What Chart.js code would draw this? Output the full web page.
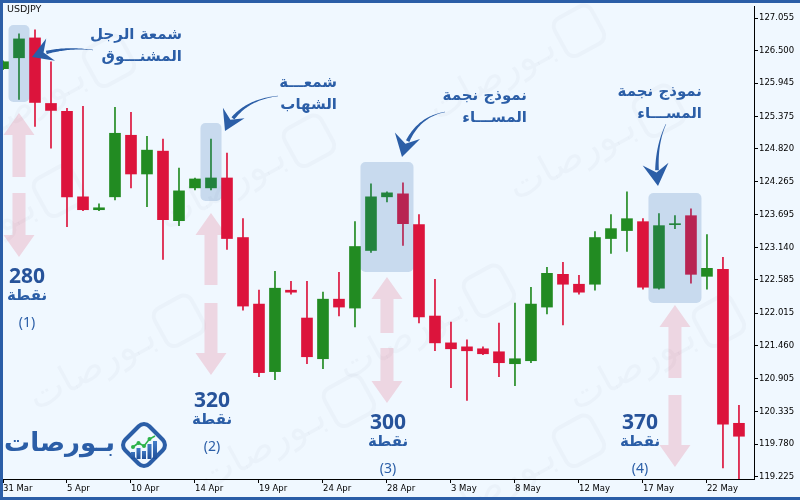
<!DOCTYPE html>
<html>
<head>
<meta charset="utf-8">
<script src="https://cdn.jsdelivr.net/npm/chart.js@4/dist/chart.umd.min.js"></script>
<style>
  html, body { margin: 0; padding: 0; background: #f0f8ff; }
</style>
</head>
<body>
<canvas id="chart" width="800" height="500"></canvas>
<script>
// USDJPY daily candles, 31 Mar .. 23 May (one label every 4 bars)
const dateLabels = ["31 Mar", "5 Apr", "10 Apr", "14 Apr", "19 Apr", "24 Apr", "28 Apr", "3 May", "8 May", "12 May", "17 May", "22 May"];
const opens  = [126.191, 126.377, 126.716, 125.597, 125.461, 124.003, 123.783, 124.003, 125.054, 124.393,
                124.783, 123.596, 124.156, 124.156, 124.325, 123.308, 122.172, 121.019, 122.409, 121.934,
                121.239, 122.256, 122.104, 123.087, 124.003, 124.054, 123.528, 121.968, 121.510, 121.442,
                121.409, 121.358, 121.154, 121.205, 122.121, 122.680, 122.511, 122.511, 123.291, 123.427,
                123.579, 122.443, 123.528, 123.681, 122.646, 122.765, 120.137];
const highs  = [126.326, 126.784, 126.852, 126.309, 125.512, 125.546, 123.884, 125.529, 125.444, 125.037,
                124.987, 124.495, 124.325, 124.987, 124.749, 123.630, 122.409, 122.731, 122.562, 122.562,
                122.375, 122.714, 123.579, 124.224, 124.088, 124.241, 123.698, 122.596, 121.866, 121.561,
                121.442, 121.849, 122.189, 122.460, 122.799, 122.884, 122.663, 123.410, 123.698, 124.088,
                123.630, 123.715, 123.681, 123.800, 123.359, 122.969, 120.442];
const lows   = [126.174, 125.665, 125.207, 124.834, 123.494, 123.766, 123.766, 123.952, 124.156, 123.833,
                122.935, 123.511, 124.122, 124.122, 123.104, 122.070, 120.934, 120.883, 122.341, 121.154,
                121.069, 121.968, 121.782, 123.053, 123.918, 123.172, 121.849, 121.375, 120.747, 120.527,
                121.307, 120.934, 120.781, 121.171, 122.002, 121.816, 122.341, 122.409, 123.037, 123.070,
                122.426, 122.426, 123.460, 122.528, 122.426, 119.374, 119.150];
const closes = [126.309, 126.699, 125.614, 125.478, 124.003, 123.783, 123.816, 125.088, 124.393, 124.800,
                123.613, 124.105, 124.308, 124.325, 123.291, 122.138, 121.002, 122.443, 122.375, 121.273,
                122.256, 122.121, 123.155, 124.003, 124.071, 123.545, 121.951, 121.510, 121.409, 121.375,
                121.324, 121.171, 121.239, 122.172, 122.697, 122.511, 122.375, 123.308, 123.460, 123.630,
                122.460, 123.511, 123.545, 122.680, 122.782, 120.120, 119.916];
const priceTicks = [119.225, 119.780, 120.335, 120.905, 121.460, 122.015, 122.585, 123.140,
                    123.695, 124.265, 124.820, 125.375, 125.945, 126.500, 127.055];

// the four marked moves
const moveCandles = [1, 13, 24, 42];
const movePoints = ["280", "320", "300", "370"];

const UP = "#228b22", DOWN = "#dc143c", BLUE = "#2b5ea7";
const colors = closes.map((c, i) => c >= opens[i] ? UP : DOWN);
const bodies = closes.map((c, i) => ({ x: i, y: [opens[i], c] }));
const wicks = highs.map((h, i) => ({ x: i, y: [lows[i], h] }));

function pinkArrow(ctx, cx, y0, y1, up) {
  const head = 22, hw = 15.5, sw = 6.5;
  ctx.beginPath();
  if (up) {
    ctx.moveTo(cx, y0);
    ctx.lineTo(cx + hw, y0 + head);
    ctx.lineTo(cx + sw, y0 + head);
    ctx.lineTo(cx + sw, y1);
    ctx.lineTo(cx - sw, y1);
    ctx.lineTo(cx - sw, y0 + head);
    ctx.lineTo(cx - hw, y0 + head);
  } else {
    ctx.moveTo(cx, y1);
    ctx.lineTo(cx + hw, y1 - head);
    ctx.lineTo(cx + sw, y1 - head);
    ctx.lineTo(cx + sw, y0);
    ctx.lineTo(cx - sw, y0);
    ctx.lineTo(cx - sw, y1 - head);
    ctx.lineTo(cx - hw, y1 - head);
  }
  ctx.closePath();
  ctx.fill();
}

function swoosh(ctx, p0, c, p2, headLen, headW, maxW) {
  const q = t => ({
    x: (1 - t) * (1 - t) * p0.x + 2 * (1 - t) * t * c.x + t * t * p2.x,
    y: (1 - t) * (1 - t) * p0.y + 2 * (1 - t) * t * c.y + t * t * p2.y
  });
  let dx = p2.x - c.x, dy = p2.y - c.y;
  const dl = Math.hypot(dx, dy); dx /= dl; dy /= dl;
  const left = [], right = [];
  const N = 40;
  for (let i = 0; i <= N; i++) {
    const t = i / N;
    const p = q(t);
    if (Math.hypot(p2.x - p.x, p2.y - p.y) < headLen * 0.7) break;
    const a = q(Math.max(0, t - 0.01)), b = q(Math.min(1, t + 0.01));
    let tx = b.x - a.x, ty = b.y - a.y;
    const tl = Math.hypot(tx, ty); tx /= tl; ty /= tl;
    const w = 0.4 + (maxW - 0.4) * Math.pow(t, 1.3);
    left.push({ x: p.x - ty * w / 2, y: p.y + tx * w / 2 });
    right.push({ x: p.x + ty * w / 2, y: p.y - tx * w / 2 });
  }
  ctx.beginPath();
  left.forEach((p, i) => i ? ctx.lineTo(p.x, p.y) : ctx.moveTo(p.x, p.y));
  right.reverse().forEach(p => ctx.lineTo(p.x, p.y));
  ctx.closePath();
  ctx.fill();
  const bx = p2.x - dx * headLen, by = p2.y - dy * headLen;
  ctx.beginPath();
  ctx.moveTo(p2.x, p2.y);
  ctx.lineTo(bx - dy * headW / 2, by + dx * headW / 2);
  ctx.lineTo(p2.x - dx * headLen * 0.62, p2.y - dy * headLen * 0.62);
  ctx.lineTo(bx + dy * headW / 2, by - dx * headW / 2);
  ctx.closePath();
  ctx.fill();
}

function roundRect(ctx, x, y, w, h, r) {
  ctx.beginPath();
  ctx.moveTo(x + r, y);
  ctx.arcTo(x + w, y, x + w, y + h, r);
  ctx.arcTo(x + w, y + h, x, y + h, r);
  ctx.arcTo(x, y + h, x, y, r);
  ctx.arcTo(x, y, x + w, y, r);
  ctx.closePath();
}

function logoIcon(ctx, cx, cy, s) {
  ctx.save();
  ctx.translate(cx, cy);
  ctx.save();
  ctx.rotate(Math.PI / 4);
  roundRect(ctx, -s / 2, -s / 2, s, s, s * 0.22);
  ctx.lineWidth = s * 0.12;
  ctx.strokeStyle = BLUE;
  ctx.stroke();
  ctx.restore();
  const bars = [[-11, 4], [-5.5, 0], [0, 3], [5.5, -4], [11, -7]];
  const k = s / 34;
  bars.forEach(([bx, top]) => {
    const g = ctx.createLinearGradient(0, top * k, 0, 14 * k);
    g.addColorStop(0, "#4a86d0");
    g.addColorStop(1, "#1f4f99");
    ctx.fillStyle = g;
    ctx.fillRect((bx - 2) * k, top * k + 3 * k, 4 * k, (14 - top - 3) * k);
  });
  ctx.strokeStyle = "#2db34a";
  ctx.fillStyle = "#2db34a";
  ctx.lineWidth = 1.6 * k;
  ctx.beginPath();
  bars.forEach(([bx, top], i) => i ? ctx.lineTo(bx * k, (top - 2) * k) : ctx.moveTo(bx * k, (top - 2) * k));
  ctx.stroke();
  bars.slice(0, 4).forEach(([bx, top]) => {
    ctx.beginPath();
    ctx.arc(bx * k, (top - 2) * k, 2 * k, 0, Math.PI * 2);
    ctx.fill();
  });
  ctx.restore();
}

const deco = {
  id: "deco",
  beforeDraw(chart) {
    const ctx = chart.ctx;
    ctx.save();
    ctx.fillStyle = "#f0f8ff";
    ctx.fillRect(0, 0, chart.width, chart.height);
    // faint watermarks
    const marks = [[90, 70], [290, 150], [560, 40], [470, 300], [160, 330], [640, 120], [330, 410], [700, 330], [40, 200], [560, 450]];
    marks.forEach(([mx, my]) => {
      ctx.save();
      ctx.translate(mx, my);
      ctx.rotate(-0.5);
      ctx.globalAlpha = 0.04;
      ctx.strokeStyle = "#5a6f8a";
      ctx.lineWidth = 4;
      roundRect(ctx, 0, -20, 42, 42, 9);
      ctx.stroke();
      ctx.fillStyle = "#5a6f8a";
      ctx.font = "38px 'DejaVu Sans'";
      ctx.textAlign = "right";
      ctx.textBaseline = "middle";
      ctx.fillText("بـورصات", -8, 2);
      ctx.restore();
    });
    ctx.restore();
  },
  beforeDatasetsDraw(chart) {
    const ctx = chart.ctx, xs = chart.scales.x;
    const spans = [[113, 177, 193, 257], [213, 285, 303, 375], [277, 333, 348, 403], [305, 378, 395, 467]];
    ctx.save();
    ctx.fillStyle = "rgba(220,20,60,0.15)";
    moveCandles.forEach((k, i) => {
      const cx = xs.getPixelForValue(k);
      const s = spans[i];
      pinkArrow(ctx, cx, s[0], s[1], true);
      pinkArrow(ctx, cx, s[2], s[3], false);
    });
    ctx.restore();
  },
  afterDatasetsDraw(chart) {
    const ctx = chart.ctx, xs = chart.scales.x;
    const boxes = [[1, 1, 25, 102], [13, 13, 123, 201], [23, 25, 162, 272], [41, 43, 193, 303]];
    ctx.save();
    ctx.fillStyle = "rgba(40,98,170,0.2)";
    boxes.forEach(([a, b, t, bt]) => {
      const x0 = xs.getPixelForValue(a) - 10.5, x1 = xs.getPixelForValue(b) + 10.5;
      roundRect(ctx, x0, t, x1 - x0, bt - t, 5);
      ctx.fill();
    });
    ctx.restore();
  },
  afterDraw(chart) {
    const ctx = chart.ctx;
    ctx.save();
    // pattern names
    ctx.fillStyle = BLUE;
    ctx.textAlign = "right";
    ctx.textBaseline = "middle";
    ctx.font = "bold 15px 'DejaVu Sans'";
    const names = [
      [182, 35, "شمعة الرجل", "المشنـــوق"],
      [337, 83, "شمعـــة", "الشهاب"],
      [527, 96, "نموذج نجمة", "المســـاء"],
      [702, 92, "نموذج نجمة", "المســـاء"]
    ];
    names.forEach(([x, y, a, b]) => {
      ctx.fillText(a, x, y);
      ctx.fillText(b, x, y + 22);
    });
    // curved arrows
    swoosh(ctx, { x: 93, y: 50 }, { x: 60, y: 46 }, { x: 32, y: 57 }, 20, 24, 5);
    swoosh(ctx, { x: 278, y: 96 }, { x: 240, y: 100 }, { x: 225, y: 131 }, 20, 24, 5);
    swoosh(ctx, { x: 445, y: 112 }, { x: 412, y: 118 }, { x: 402, y: 157 }, 22, 26, 5);
    swoosh(ctx, { x: 666, y: 124 }, { x: 654, y: 150 }, { x: 658, y: 186 }, 22, 26, 5);
    // move sizes
    ctx.textAlign = "center";
    const textX = [27, 212, 388, 640];
    const textY = [277, 401, 423, 423];
    movePoints.forEach((p, i) => {
      const x = textX[i], y = textY[i];
      ctx.fillStyle = "#27539a";
      ctx.font = "bold 21px 'Open Sans'";
      ctx.fillText(p, x, y);
      ctx.fillStyle = BLUE;
      ctx.font = "bold 15px 'DejaVu Sans'";
      ctx.fillText("نقطة", x, y + 19);
      ctx.font = "14px 'Noto Sans'";
      ctx.fillText("(" + (i + 1) + ")", x, y + 46);
    });
    // logo
    ctx.font = "bold 26px 'DejaVu Sans'";
    ctx.textAlign = "right";
    ctx.fillText("بـورصات", 115, 444);
    logoIcon(ctx, 144, 445, 34);
    // symbol
    ctx.fillStyle = "#111";
    ctx.textAlign = "left";
    ctx.font = "9.5px 'DejaVu Sans'";
    ctx.fillText("USDJPY", 7, 10);
    // frame
    ctx.fillStyle = BLUE;
    ctx.fillRect(0, 0, 800, 3);
    ctx.fillRect(0, 0, 3, 500);
    ctx.fillRect(0, 497, 800, 3);
    ctx.restore();
  }
};

const axisFont = { family: "'DejaVu Sans'", size: 8.5 };

new Chart(document.getElementById("chart"), {
  type: "bar",
  data: {
    datasets: [
      { data: bodies, backgroundColor: colors, barThickness: 11, grouped: false, borderWidth: 0, minBarLength: 1 },
      { data: wicks, backgroundColor: colors, barThickness: 1, grouped: false, borderWidth: 0 }
    ]
  },
  options: {
    responsive: false,
    animation: false,
    devicePixelRatio: 1,
    layout: { padding: { left: 3, top: 3, right: 0, bottom: 0 } },
    plugins: { legend: { display: false }, tooltip: { enabled: false } },
    scales: {
      x: {
        type: "linear", min: 0, max: 46.94, offset: false,
        afterBuildTicks: s => { s.ticks = dateLabels.map((_, i) => ({ value: i * 4 })); },
        afterFit: s => { s.height = 21; },
        ticks: { callback: v => dateLabels[Math.round(v / 4)], align: "start", maxRotation: 0, autoSkip: false,
                 font: axisFont, color: "#000", padding: 1 },
        grid: { drawOnChartArea: false, drawTicks: true, tickLength: 4, color: "#000", offset: false },
        border: { display: true, color: "#000" }
      },
      y: {
        position: "right", min: 119.186, max: 127.259,
        afterBuildTicks: s => { s.ticks = priceTicks.map(v => ({ value: v })); },
        afterFit: s => { s.width = 46; },
        ticks: { callback: v => v.toFixed(3), font: axisFont, color: "#000", padding: 1, autoSkip: false },
        grid: { drawOnChartArea: false, drawTicks: true, tickLength: 4, color: "#000" },
        border: { display: true, color: "#000" }
      }
    }
  },
  plugins: [deco]
});
</script>
</body>
</html>
